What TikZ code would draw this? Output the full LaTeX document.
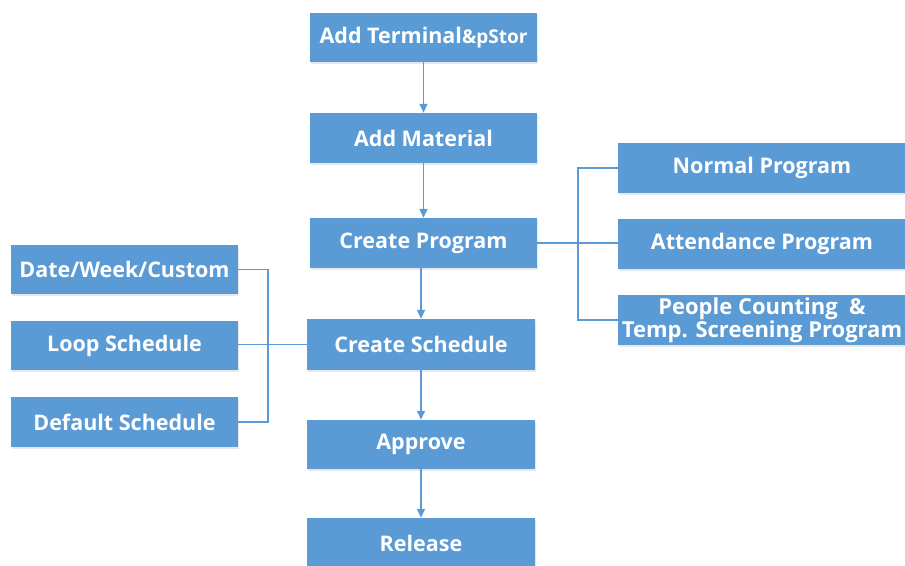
\documentclass[tikz,border=0pt]{standalone}
\usepackage{fontspec}
\setmainfont{Open Sans}
\usetikzlibrary{arrows.meta,shadows}
\definecolor{boxblue}{HTML}{5B9BD5}
\begin{document}
\begin{tikzpicture}[x=1pt,y=-1pt,
  box/.style={rectangle, fill=boxblue, text=white, inner sep=0pt,
    font=\fontsize{21.5}{23}\selectfont\bfseries, align=center,
    drop shadow={shadow xshift=1.2pt, shadow yshift=-1.5pt, opacity=0.18, fill=gray}},
  conn/.style={draw=boxblue, line width=1.4pt},
  arr/.style={conn, -{Triangle[width=8pt,length=9pt]}}]
\useasboundingbox (0,0) rectangle (905,565);
% main column
\node[box, minimum width=227pt, minimum height=49pt] (term) at (423.5,37.5)
  {Add Terminal{\fontsize{19}{21}\selectfont\&pStor}};
\node[box, minimum width=227pt, minimum height=50pt] (mat) at (423.5,138) {Add Material};
\node[box, minimum width=227pt, minimum height=50pt] (prog) at (423.5,243) {Create Program};
\node[box, minimum width=228pt, minimum height=51pt] (sched) at (421,344.5) {Create Schedule};
\node[box, minimum width=228pt, minimum height=49pt] (appr) at (421,444.5) {Approve};
\node[box, minimum width=228pt, minimum height=50pt] (rel) at (421,543) {Release};
% right column
\node[box, minimum width=288pt, minimum height=50pt] (normal) at (762,168) {Normal Program};
\node[box, minimum width=288pt, minimum height=50pt] (att) at (762,244) {Attendance Program};
\node[box, minimum width=288pt, minimum height=50pt, font=\fontsize{22}{23}\selectfont\bfseries] (people) at (762,320)
  {People Counting\ \ \&\\Temp. Screening Program};
% left column
\node[box, minimum width=227pt, minimum height=49pt] (date) at (124.5,269.5) {Date/Week/Custom};
\node[box, minimum width=227pt, minimum height=49pt] (loop) at (124.5,345.5) {Loop Schedule};
\node[box, minimum width=227pt, minimum height=50pt] (def) at (124.5,422) {Default Schedule};
% coordinates for bus lines
\coordinate (rb) at (578,243);
\coordinate (lb) at (268,345);
% arrows
\draw[arr] (term.south) -- (mat.north);
\draw[arr] (mat.south) -- (mat.south |- prog.north);
\draw[arr] (prog.south -| sched.north) -- (sched.north);
\draw[arr] (sched.south) -- (appr.north);
\draw[arr] (appr.south) -- (rel.north);
% right connectors
\draw[conn] (prog.east) -- (prog.east -| att.west);
\draw[conn] (normal.west) -| (rb) |- (people.west);
% left connectors
\draw[conn] (loop.east |- sched.west) -- (sched.west);
\draw[conn] (date.east) -| (lb) |- (def.east);
\end{tikzpicture}
\end{document}
